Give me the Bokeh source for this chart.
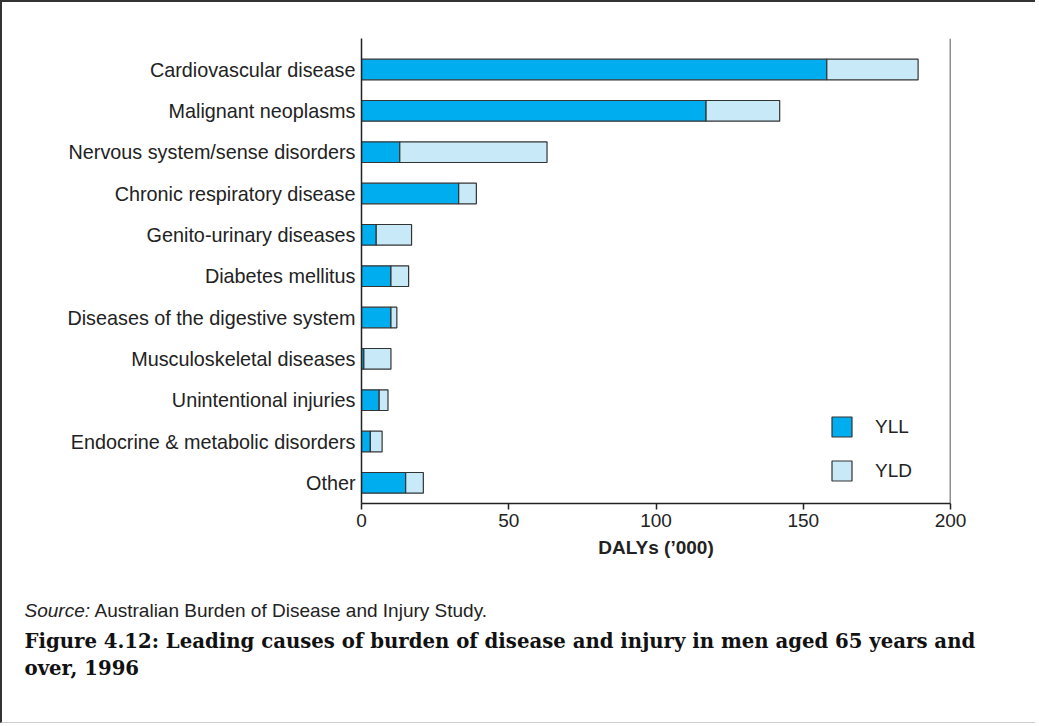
from bokeh.plotting import figure
from bokeh.models import (Range1d, FixedTicker, Span, Label, Legend, LegendItem,
                          ColumnDataSource)
from bokeh.embed import file_html
from bokeh.resources import INLINE

# ---- data ----
categories = ["Cardiovascular disease", "Malignant neoplasms",
              "Nervous system/sense disorders", "Chronic respiratory disease",
              "Genito-urinary diseases", "Diabetes mellitus",
              "Diseases of the digestive system", "Musculoskeletal diseases",
              "Unintentional injuries", "Endocrine & metabolic disorders", "Other"]
yll = [158, 117, 13, 33, 5, 10, 10, 0.8, 6, 3, 15]
yld = [31, 25, 50, 6, 12, 6, 2, 9.2, 3, 4, 6]
series = ["YLL", "YLD"]
x_ticks = [0, 50, 100, 150, 200]
x_title = "DALYs (\u2019000)"
source_prefix = "Source:"
source_text = "Australian Burden of Disease and Injury Study."
caption_lines = ["Figure 4.12: Leading causes of burden of disease and injury in men aged 65 years and",
                 "over, 1996"]

colors = ["#00AEEF", "#C8E9F8"]
SANS = "Liberation Sans"

n = len(categories)
pos = [n - 1 - i for i in range(n)]
src = ColumnDataSource(dict(pos=pos, cat=categories, YLL=yll, YLD=yld))

# canvas starts 2px in (border); frame at page x 361..950, y 38..503
W = 1035
H1 = 583
FL, FR, FT, FB = 359, 948, 36, 501
p = figure(width=W, height=H1, output_backend="svg", toolbar_location=None,
           x_range=Range1d(0, 200), y_range=Range1d(-0.5, n - 0.25),
           min_border_left=FL, min_border_right=W - FR,
           min_border_top=FT, min_border_bottom=H1 - FB)
p.styles = {"border-top": "2px solid #333", "border-left": "2px solid #333"}

renderers = p.hbar_stack(series, y="pos", height=0.5, color=colors,
                         line_color="#333333", line_width=1.2, source=src)

p.grid.visible = False
p.outline_line_color = None
p.background_fill_color = "white"
p.border_fill_color = "white"

# x axis
xa = p.xaxis[0]
xa.ticker = FixedTicker(ticks=x_ticks)
xa.minor_tick_line_color = None
xa.major_tick_in = 0
xa.major_tick_out = 6
xa.axis_line_color = "#222222"
xa.major_tick_line_color = "#222222"
xa.axis_line_width = 1.5
xa.major_tick_line_width = 1.5
xa.major_label_text_font = SANS
xa.major_label_text_font_size = "19px"
xa.major_label_text_color = "#222222"
xa.major_label_standoff = 4
xa.axis_label = x_title
xa.axis_label_text_font = SANS
xa.axis_label_text_font_size = "19px"
xa.axis_label_text_font_style = "bold"
xa.axis_label_text_color = "#222222"
xa.axis_label_standoff = 7

# y axis
ya = p.yaxis[0]
ya.ticker = FixedTicker(ticks=pos)
ya.major_label_overrides = {pp: c for pp, c in zip(pos, categories)}
ya.minor_tick_line_color = None
ya.major_tick_in = 0
ya.major_tick_out = 0
ya.axis_line_color = "#222222"
ya.axis_line_width = 1.5
ya.major_label_text_font = SANS
ya.major_label_text_font_size = "19.8px"
ya.major_label_text_color = "#222222"
ya.major_label_standoff = 6

# right frame line
p.add_layout(Span(location=200, dimension="height", line_color="#222222", line_width=1.5))

# legend (bar legend glyph is inset 10% on each side)
legend = Legend(items=[LegendItem(label=s, renderers=[r]) for s, r in zip(series, renderers)],
                location=(468, 20), orientation="vertical",
                glyph_width=25, glyph_height=25, label_height=25, spacing=19,
                label_standoff=21, padding=0, margin=0,
                border_line_alpha=0, background_fill_alpha=0,
                label_text_font=SANS, label_text_font_size="19px",
                label_text_color="#222222")
p.add_layout(legend)

# ---- footer figure (separate root): source + caption ----
TOP2 = 2 + H1          # page y where footer canvas begins
H2 = 726 - TOP2 - 1
p2 = figure(width=W, height=H2, output_backend="svg", toolbar_location=None,
            x_range=Range1d(0, W), y_range=Range1d(H2, 0),
            x_axis_type=None, y_axis_type=None,
            min_border=0, min_border_left=0, min_border_right=0,
            min_border_top=0, min_border_bottom=0)
p2.grid.visible = False
p2.outline_line_color = None
p2.background_fill_color = "white"
p2.border_fill_color = "white"
p2.styles = {"border-left": "2px solid #333", "border-bottom": "1px solid #ccc"}

def fx(page_x):
    return page_x - 2
def fy(page_y):
    return page_y - TOP2

p2.add_layout(Label(x=fx(24), y=fy(612), text=source_prefix, text_font=SANS,
                    text_font_size="19px", text_font_style="italic",
                    text_baseline="middle", text_color="#222222"))
p2.add_layout(Label(x=fx(24), y=fy(612), x_offset=70, text=source_text, text_font=SANS,
                    text_font_size="19px", text_baseline="middle", text_color="#222222"))
for i, line in enumerate(caption_lines):
    p2.add_layout(Label(x=fx(24), y=fy(643 + 27 * i), text=line, text_font="DejaVu Serif",
                        text_font_size="19.7px", text_font_style="bold",
                        text_baseline="middle", text_color="#111111"))

open("out.html", "w").write(file_html([p, p2], INLINE))
